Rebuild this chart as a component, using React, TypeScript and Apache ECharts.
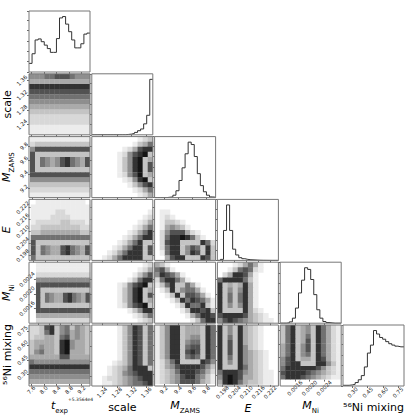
import React, { useEffect, useRef } from "react";
import * as echarts from "echarts";

// ---------- DATA ----------
const axisTitles = ["{i|t}{s|exp}", "{n|scale}", "{i|M}{s|ZAMS}", "{i|E}", "{i|M}{s|Ni}", "{n|⁵⁶Ni mixing}"];
const axisMin = [7.53, 1.212, 9.07, 0.1955, 0.0012, 0.205];
const axisMax = [9.47, 1.378, 9.935, 0.2262, 0.00287, 0.81];
const tickValues = [
  [7.6, 8.0, 8.4, 8.8, 9.2],
  [1.24, 1.28, 1.32, 1.36],
  [9.2, 9.4, 9.6, 9.8],
  [0.198, 0.204, 0.21, 0.216, 0.222],
  [0.0016, 0.002, 0.0024],
  [0.3, 0.45, 0.6, 0.75],
];
const tickDecimals = [1, 2, 1, 3, 4, 2];
const texpOffsetLabel = "+5.3564e4";

// 1D histograms (20 bins each)
const histTexp = [25, 53, 93, 96, 88, 78, 68, 57, 57, 97, 157, 161, 139, 117, 93, 70, 70, 82, 110, 113];
const histScale = [0, 0, 0, 0, 0, 0, 0, 0, 0, 0, 0, 1, 2, 4, 7, 12, 17, 32, 57, 162];
const histMzams = [0, 0, 0, 0, 1, 2, 7, 20, 50, 87, 128, 162, 155, 120, 70, 35, 17, 7, 2, 1];
const histE = [0, 3, 88, 163, 88, 33, 16, 8, 5, 3, 2, 1.5, 1, 0.5, 0.3, 0.2, 0.1, 0, 0, 0];
const histMni = [0, 0, 1, 4, 15, 45, 90, 128, 165, 160, 130, 85, 40, 15, 5, 2, 1, 0, 0, 0];
const histMix = [2, 2, 3, 5, 10, 18, 30, 55, 95, 118, 160, 150, 140, 135, 128, 122, 118, 115, 113, 113];
const histograms = [histTexp, histScale, histMzams, histE, histMni, histMix];

// 2D panels: 12x12 grey-level grids (0 white .. 9 black), top row = high y, left col = low x
const d10 = ["555667776555","444444444444","888888888888","777777777777","666666666666","555555555555","444444444444","333333333333","222222222222","222222222222","111111111111","111111111111"];
const d20 = ["111111111111","233333333333","577777777777","733333333333","736545786547","736545786547","733333333333","777777777777","555555555555","333333333333","222222222222","111111111111"];
const d21 = ["000000000123","000000001346","000000124788","000001257893","000001358934","000001358937","000001358937","000001257934","000000125893","000000013578","000000001246","000000000124"];
const d30 = ["011111111110","111111111111","111112211111","111122221111","122222332221","223333333322","334444444433","666666666666","733333333333","736544786547","736544786547","633333333333"];
const d31 = ["000000000000","000000000000","000000000001","000000000012","000000000124","000000001246","000000012468","000000124688","000001246833","000012468837","000124688837","001246888833"];
const d32 = ["000000000000","000000000000","011000000000","012100000000","013321000000","014543100000","025777421000","026889863100","027883333862","026883576383","016883587383","004788333873"];
const d40 = ["111111111111","111111111111","222222222222","555555555555","777777777777","733333333333","736544786547","736544786547","733333333333","777777777777","444444444444","222222222222"];
const d41 = ["000000000012","000000000124","000000001357","000000013688","000001257893","000001358934","000001358937","000001358934","000001257893","000000013588","000000001246","000000000123"];
const d42 = ["431000000000","674100000000","587641000000","268864100000","136833641000","013835664100","001383776410","000138687641","000013866831","000001388783","000000146887","000000013688"];
const d43 = ["000124641000","001367621000","024887410000","688886310000","834348410000","835358410000","836368410000","836368410000","835358410000","833338421000","788887432100","578765432110"];
const d50 = ["223783563543","223683564543","233443674543","344443895443","345443895443","356443894443","444444774444","655555555555","888888888888","666666666666","555555555555","444444444444"];
const d51 = ["000001358736","000001358736","000001358736","000001358736","000001358736","000001358736","000001358736","000012358736","000123468883","000123567888","001223456788","001123456678"];
const d52 = ["135883444386","135883444386","135883455386","135883566386","135883677386","135883787386","135883676386","124683333875","124578888753","123468887642","123457886531","123457776431"];
const d53 = ["835384321000","835384321000","836384321000","837384321000","837385321000","837385432100","836385432100","835385432100","833386432100","688875432110","589874432110","489864332110"];
const d54 = ["368345386421","368345386421","368346386421","368347386421","468357386421","468357386421","468356386421","578344387421","578833388531","688888875321","788887654321","688876543211"];
const densities: Record<string, string[]> = {
  "1-0": d10, "2-0": d20, "2-1": d21, "3-0": d30, "3-1": d31, "3-2": d32,
  "4-0": d40, "4-1": d41, "4-2": d42, "4-3": d43,
  "5-0": d50, "5-1": d51, "5-2": d52, "5-3": d53, "5-4": d54,
};

// ---------- STYLE ----------
const greys = ["#ffffff", "#ececec", "#d8d8d8", "#c4c4c4", "#aaaaaa", "#8e8e8e", "#717171", "#525252", "#333333", "#151515"];
const FONT = "DejaVu Sans";
const xLabelMargin = [6, 6.5, 6, 7.5, 8.5, 6.5];
const yLabelMargin = [6, 7, 6, 8, 9, 6.5];
const rich = {
  i: { fontSize: 11, fontStyle: "italic", fontFamily: FONT, color: "#000", padding: [0, 0, 3, 0], verticalAlign: "bottom" },
  n: { fontSize: 11, fontFamily: FONT, color: "#000" },
  s: { fontSize: 7, fontFamily: FONT, color: "#000", verticalAlign: "bottom" },
};

function buildOption() {
  const N = 6;
  const pitch = 62.8;
  const size = 61;
  const grids: any[] = [];
  const xAxes: any[] = [];
  const yAxes: any[] = [];
  const series: any[] = [];
  const graphics: any[] = [];
  let g = 0;
  for (let r = 0; r < N; r++) {
    for (let c = 0; c <= r; c++) {
      const left = 29 + c * pitch;
      const top = 11 + r * pitch;
      grids.push({ left, top, width: size, height: size, containLabel: false });
      const diag = r === c;
      xAxes.push({
        type: "value", gridIndex: g, min: axisMin[c], max: axisMax[c],
        axisLine: { show: false }, splitLine: { show: false },
        axisTick: { show: true, customValues: tickValues[c], length: 2, lineStyle: { color: "#444", width: 0.8 } },
        axisLabel: {
          show: r === N - 1, customValues: tickValues[c],
          formatter: (v: number) => Number(v).toFixed(tickDecimals[c]),
          rotate: 45, align: "center", verticalAlign: "middle",
          fontSize: 5.5, margin: xLabelMargin[c], color: "#111", fontFamily: FONT,
        },
        name: r === N - 1 ? axisTitles[c] : "", nameLocation: "middle", nameGap: 16,
        nameTextStyle: { fontSize: 11, fontFamily: FONT, color: "#000", rich },
      });
      if (diag) {
        const h = histograms[c];
        const hmax = Math.max(...h);
        yAxes.push({
          type: "value", gridIndex: g, min: 0, max: hmax * 1.1,
          axisLine: { show: false }, splitLine: { show: false },
          axisTick: { show: true, length: 2, lineStyle: { color: "#444", width: 0.8 } },
          axisLabel: { show: false }, splitNumber: 5,
        });
        const step = (axisMax[c] - axisMin[c]) / h.length;
        const pts: number[][] = h.map((v, k) => [axisMin[c] + k * step, v]);
        pts.push([axisMax[c], h[h.length - 1]]);
        series.push({
          type: "line", xAxisIndex: g, yAxisIndex: g, data: pts, step: "end",
          showSymbol: false, symbol: "none", lineStyle: { color: "#333", width: 1 }, clip: true, z: 5,
        });
      } else {
        yAxes.push({
          type: "value", gridIndex: g, min: axisMin[r], max: axisMax[r],
          axisLine: { show: false }, splitLine: { show: false },
          axisTick: { show: true, customValues: tickValues[r], length: 2, lineStyle: { color: "#444", width: 0.8 } },
          axisLabel: {
            show: c === 0, customValues: tickValues[r],
            formatter: (v: number) => Number(v).toFixed(tickDecimals[r]),
            rotate: 45, align: "center", verticalAlign: "middle",
            fontSize: 5.5, margin: yLabelMargin[r], color: "#111", fontFamily: FONT,
          },
          name: c === 0 ? axisTitles[r] : "", nameLocation: "middle", nameGap: 15,
          nameTextStyle: { fontSize: 11, fontFamily: FONT, color: "#000", rich },
        });
        const grid = densities[`${r}-${c}`];
        const nr = grid.length;
        const nc = grid[0].length;
        const dx = (axisMax[c] - axisMin[c]) / nc;
        const dy = (axisMax[r] - axisMin[r]) / nr;
        const data: number[][] = [];
        grid.forEach((row, ri) => {
          for (let ci = 0; ci < nc; ci++) {
            const v = Number(row[ci]);
            if (v > 0) data.push([axisMin[c] + (ci + 0.5) * dx, axisMax[r] - (ri + 0.5) * dy, v]);
          }
        });
        series.push({
          type: "custom", xAxisIndex: g, yAxisIndex: g, data, clip: true, silent: true,
          renderItem: (_p: any, api: any) => {
            const p = api.coord([api.value(0), api.value(1)]);
            const s = api.size([dx, dy]);
            return {
              type: "rect",
              shape: { x: p[0] - s[0] / 2, y: p[1] - s[1] / 2, width: s[0] + 0.4, height: s[1] + 0.4 },
              style: { fill: greys[api.value(2)] },
            };
          },
        });
      }
      graphics.push({
        type: "rect", silent: true, z: 100,
        shape: { x: left, y: top, width: size, height: size },
        style: { fill: "none", stroke: "#777", lineWidth: 1 },
      });
      g++;
    }
  }
  graphics.push({
    type: "text", silent: true, z: 100, x: 68, y: 397,
    style: { text: texpOffsetLabel, fontSize: 4.5, fontFamily: FONT, fill: "#111" },
  });
  return {
    animation: false,
    backgroundColor: "#fff",
    grid: grids,
    xAxis: xAxes,
    yAxis: yAxes,
    series,
    graphic: graphics,
  };
}

export default function App() {
  const ref = useRef<HTMLDivElement>(null);
  useEffect(() => {
    const chart = echarts.init(ref.current!, null, { renderer: "svg" });
    chart.setOption(buildOption() as any);
    return () => chart.dispose();
  }, []);
  return (
    <div
      ref={ref}
      style={{ position: "fixed", left: 0, top: 0, width: 415, height: 415, background: "#fff" }}
    />
  );
}
